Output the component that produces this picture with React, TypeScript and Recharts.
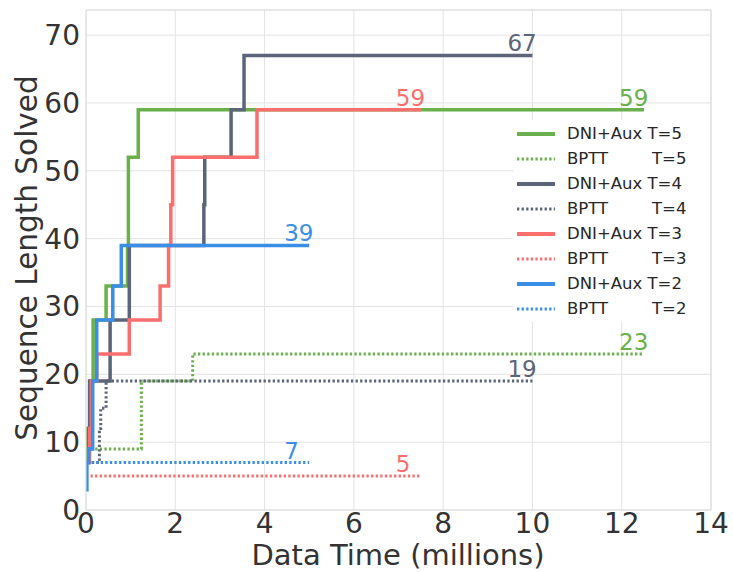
import React from 'react';
import { LineChart, Line, XAxis, YAxis, CartesianGrid, ReferenceLine } from 'recharts';

const FONT = '"DejaVu Sans", sans-serif';

const xTicks = [0, 2, 4, 6, 8, 10, 12, 14];
const yTicks = [0, 10, 20, 30, 40, 50, 60, 70];

// step series: time (millions) at which the solved length changes, and the new length
const dniT5Time = [0, 0.04, 0.1, 0.16, 0.45, 0.93, 0.95, 1.17, 12.5];
const dniT5Len = [7, 12, 19, 28, 33, 39, 52, 59, 59];
const bpttT5Time = [0, 1.24, 2.39, 12.5];
const bpttT5Len = [9, 19, 23, 23];

const dniT4Time = [0.03, 0.06, 0.08, 0.54, 0.97, 2.64, 2.66, 3.25, 3.54, 10];
const dniT4Len = [7, 12, 19, 28, 39, 45, 52, 59, 67, 67];
const bpttT4Time = [0.03, 0.3, 0.33, 0.45, 10];
const bpttT4Len = [7, 12, 15, 19, 19];

const dniT3Time = [0.03, 0.08, 0.12, 0.24, 0.97, 1.66, 1.85, 1.9, 1.94, 3.83, 7.5];
const dniT3Len = [7, 12, 19, 23, 28, 33, 39, 45, 52, 59, 59];
const bpttT3Time = [0.1, 7.5];
const bpttT3Len = [5, 5];

const dniT2Time = [0, 0.02, 0.06, 0.15, 0.24, 0.6, 0.79, 5];
const dniT2Len = [3, 7, 9, 19, 28, 33, 39, 39];
const bpttT2Time = [0.02, 5];
const bpttT2Len = [7, 7];

const toPoints = (t: number[], v: number[]) => t.map((x, i) => ({ x, y: v[i] }));

const series = [
  { name: 'DNI+Aux', t: 'T=5', color: '#6ab04c', dotted: false, data: toPoints(dniT5Time, dniT5Len) },
  { name: 'BPTT', t: 'T=5', color: '#6ab04c', dotted: true, data: toPoints(bpttT5Time, bpttT5Len) },
  { name: 'DNI+Aux', t: 'T=4', color: '#5b6478', dotted: false, data: toPoints(dniT4Time, dniT4Len) },
  { name: 'BPTT', t: 'T=4', color: '#5b6478', dotted: true, data: toPoints(bpttT4Time, bpttT4Len) },
  { name: 'DNI+Aux', t: 'T=3', color: '#fa6e6e', dotted: false, data: toPoints(dniT3Time, dniT3Len) },
  { name: 'BPTT', t: 'T=3', color: '#fa6e6e', dotted: true, data: toPoints(bpttT3Time, bpttT3Len) },
  { name: 'DNI+Aux', t: 'T=2', color: '#3a8ee6', dotted: false, data: toPoints(dniT2Time, dniT2Len) },
  { name: 'BPTT', t: 'T=2', color: '#3a8ee6', dotted: true, data: toPoints(bpttT2Time, bpttT2Len) },
];

const endLabel = (color: string, last: number) => (props: any) => {
  if (props.index !== last) return <g />;
  return (
    <text x={props.x - 25} y={props.y - 4} fill={color} fontSize={23} fontFamily={FONT} textAnchor="start">
      {props.value}
    </text>
  );
};

const LegendBox = () => (
  <div
    style={{
      position: 'absolute',
      left: 513,
      top: 120,
      width: 197,
      height: 202,
      background: '#fff',
      fontFamily: FONT,
      fontSize: 16.5,
      color: '#262626',
    }}
  >
    {series.map((s, i) => (
      <div key={i} style={{ position: 'absolute', left: 0, top: 2 + i * 25.05, height: 24, width: 197 }}>
        <svg width={50} height={24} style={{ position: 'absolute', left: 0, top: 0 }}>
          <line
            x1={4}
            x2={42}
            y1={12}
            y2={12}
            stroke={s.color}
            strokeWidth={s.dotted ? 3 : 4}
            strokeDasharray={s.dotted ? '2.3 2.3' : undefined}
          />
        </svg>
        {s.dotted ? (
          <>
            <span style={{ position: 'absolute', left: 54, top: 2, whiteSpace: 'pre' }}>{s.name}</span>
            <span style={{ position: 'absolute', left: 139, top: 2, whiteSpace: 'pre' }}>{s.t}</span>
          </>
        ) : (
          <span style={{ position: 'absolute', left: 54, top: 2, whiteSpace: 'pre' }}>{`${s.name} ${s.t}`}</span>
        )}
      </div>
    ))}
  </div>
);

export default function App() {
  return (
    <div style={{ position: 'absolute', left: 0, top: 0, width: 733, height: 572, background: '#fff' }}>
      <LineChart width={733} height={572} margin={{ top: 10, right: 22, left: 0, bottom: 0 }}>
        <CartesianGrid stroke="#e3e3e3" strokeWidth={1} />
        <XAxis
          type="number"
          dataKey="x"
          domain={[0, 14]}
          ticks={xTicks}
          allowDataOverflow
          height={62}
          tickLine={false}
          tickSize={0}
          tickMargin={3}
          axisLine={{ stroke: '#dcdcdc' }}
          tick={{ fontSize: 28, fill: '#333', fontFamily: FONT }}
          label={() => (
            <text x={398} y={565} textAnchor="middle" fontSize={29} fill="#333" fontFamily={FONT}>
              Data Time (millions)
            </text>
          )}
        />
        <YAxis
          type="number"
          dataKey="y"
          domain={[0, 73.7]}
          ticks={yTicks}
          allowDataOverflow
          width={86}
          tickLine={false}
          tickSize={0}
          tickMargin={6}
          axisLine={{ stroke: '#dcdcdc' }}
          tick={{ fontSize: 28, fill: '#333', fontFamily: FONT }}
          label={() => (
            <text
              x={37}
              y={258}
              transform="rotate(-90 37 258)"
              textAnchor="middle"
              fontSize={29.5}
              fill="#333"
              fontFamily={FONT}
            >
              Sequence Length Solved
            </text>
          )}
        />
        <ReferenceLine x={14} stroke="#dcdcdc" />
        <ReferenceLine y={73.7} stroke="#dcdcdc" />
        {series.map((s, i) => (
          <Line
            key={i}
            data={s.data}
            dataKey="y"
            type="stepAfter"
            stroke={s.color}
            strokeWidth={s.dotted ? 3 : 3.5}
            strokeDasharray={s.dotted ? '2.3 2.3' : undefined}
            dot={false}
            activeDot={false}
            isAnimationActive={false}
            label={endLabel(s.color, s.data.length - 1)}
          />
        ))}
      </LineChart>
      <LegendBox />
    </div>
  );
}
